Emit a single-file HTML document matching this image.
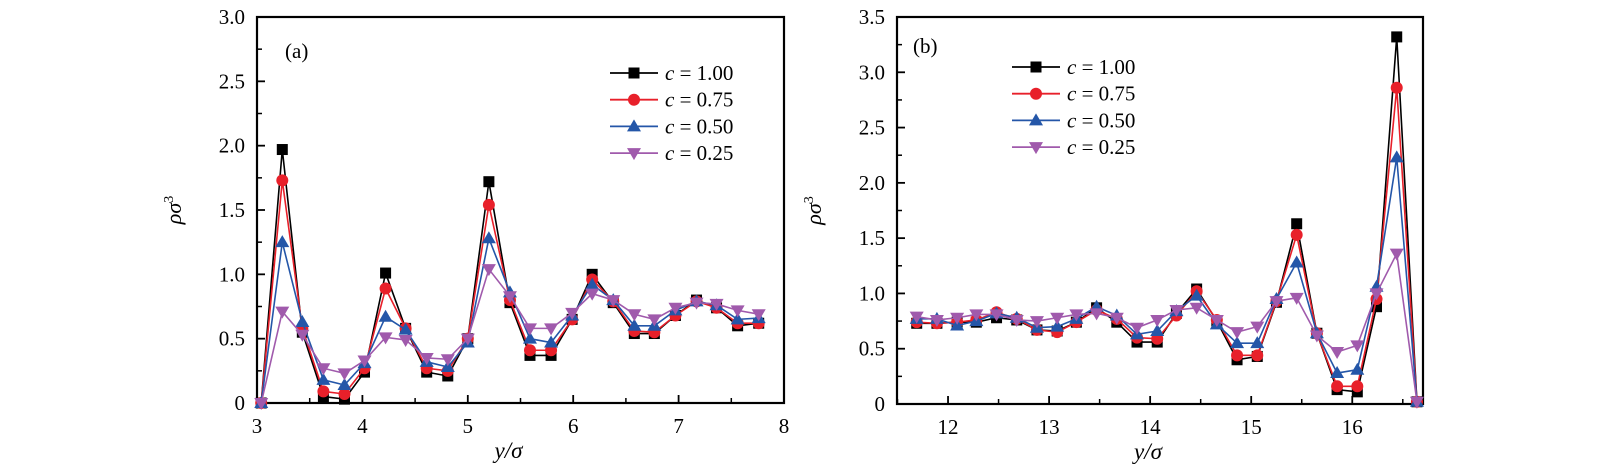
<!DOCTYPE html>
<html><head><meta charset="utf-8"><style>
html,body{margin:0;padding:0;background:#fff;}
svg{display:block;font-family:"Liberation Serif",serif;}
</style></head><body>
<svg id="chart" width="1600" height="470"></svg>
<script>
const seriesLabels = ["c = 1.00","c = 0.75","c = 0.50","c = 0.25"];
const xTicksA = [3,4,5,6,7,8];
const yTicksA = [0,0.5,1.0,1.5,2.0,2.5,3.0];
const xTicksB = [12,13,14,15,16];
const yTicksB = [0,0.5,1.0,1.5,2.0,2.5,3.0,3.5];
const xA = [3.04,3.24,3.43,3.63,3.83,4.02,4.22,4.41,4.61,4.81,5.0,5.2,5.4,5.59,5.79,5.99,6.18,6.38,6.58,6.77,6.97,7.17,7.36,7.56,7.76];
const a100 = [0.0,1.97,0.55,0.05,0.03,0.24,1.01,0.58,0.24,0.21,0.5,1.72,0.78,0.37,0.37,0.65,1.0,0.78,0.54,0.54,0.68,0.8,0.74,0.6,0.62];
const a075 = [0.0,1.73,0.58,0.09,0.07,0.27,0.89,0.58,0.27,0.25,0.5,1.54,0.8,0.41,0.41,0.65,0.96,0.79,0.56,0.55,0.68,0.79,0.74,0.62,0.62];
const a050 = [0.0,1.25,0.63,0.18,0.14,0.31,0.67,0.57,0.32,0.28,0.47,1.28,0.86,0.5,0.47,0.68,0.92,0.8,0.6,0.6,0.72,0.79,0.76,0.65,0.66];
const a025 = [0.0,0.71,0.53,0.27,0.23,0.33,0.51,0.49,0.35,0.34,0.5,1.04,0.83,0.58,0.58,0.7,0.85,0.8,0.69,0.65,0.74,0.78,0.77,0.72,0.69];
const xB = [11.69,11.89,12.09,12.28,12.48,12.68,12.88,13.08,13.27,13.47,13.67,13.87,14.07,14.26,14.46,14.66,14.86,15.06,15.25,15.45,15.65,15.85,16.05,16.24,16.44,16.64];
const b100 = [0.73,0.73,0.74,0.74,0.78,0.76,0.67,0.66,0.74,0.87,0.74,0.56,0.56,0.82,1.04,0.75,0.40,0.43,0.92,1.63,0.64,0.13,0.11,0.88,3.32,0.02];
const b075 = [0.74,0.73,0.74,0.76,0.83,0.77,0.67,0.65,0.74,0.85,0.77,0.60,0.59,0.80,1.02,0.76,0.44,0.44,0.93,1.53,0.64,0.16,0.16,0.95,2.86,0.02];
const b050 = [0.77,0.77,0.71,0.75,0.82,0.78,0.69,0.70,0.77,0.88,0.80,0.63,0.66,0.84,0.98,0.72,0.55,0.55,0.95,1.28,0.64,0.28,0.31,1.06,2.23,0.02];
const b025 = [0.79,0.76,0.78,0.81,0.81,0.76,0.75,0.78,0.81,0.82,0.78,0.69,0.76,0.85,0.87,0.76,0.65,0.70,0.93,0.96,0.62,0.47,0.53,1.00,1.36,0.02];

const NS="http://www.w3.org/2000/svg";
const svg=document.getElementById('chart');
const colors=["#000000","#e8202a","#2456a8","#a05aac"];
const shapes=["square","circle","up","down"];
function el(tag,attrs,parent){const e=document.createElementNS(NS,tag);for(const k in attrs)e.setAttribute(k,attrs[k]);(parent||svg).appendChild(e);return e;}
function marker(g,shape,x,y,c){
  let m;
  if(shape==="square") m=el('rect',{x:x-5.5,y:y-5.5,width:11,height:11,fill:c},g);
  else if(shape==="circle") m=el('circle',{cx:x,cy:y,r:6,fill:c},g);
  else if(shape==="up") m=el('polygon',{points:`${x},${y-7} ${x-7},${y+5} ${x+7},${y+5}`,fill:c},g);
  else m=el('polygon',{points:`${x},${y+7} ${x-7},${y-5} ${x+7},${y-5}`,fill:c},g);
  return m;
}
function panel(cfg){
  const {L,R,T,B,xmin,xmax,ymin,ymax,xt,yt,xs,ys,tag,lab,legX,legY,name}=cfg;
  const sx=v=>L+(v-xmin)/(xmax-xmin)*(R-L);
  const sy=v=>B-(v-ymin)/(ymax-ymin)*(B-T);
  const g=el('g',{});
  
  
  const ax=el('g',{},g);
  
  
  // ticks
  const xstep=xt[1]-xt[0], ystep=yt[1]-yt[0];
  for(let i=0;i<xt.length;i++){
    const v=xt[i];
    el('line',{x1:sx(v),x2:sx(v),y1:B,y2:B-8,stroke:'#000','stroke-width':1.8},ax);
    const t=el('text',{x:sx(v),y:B+30,'text-anchor':'middle','font-size':21},ax);t.textContent=String(v);
    
    
    const m=v+xstep/2;
    if(m<xmax) el('line',{x1:sx(m),x2:sx(m),y1:B,y2:B-5,stroke:'#000','stroke-width':1.5},ax);
    const m2=v-xstep/2;
    if(i===0&&m2>xmin) el('line',{x1:sx(m2),x2:sx(m2),y1:B,y2:B-5,stroke:'#000','stroke-width':1.5},ax);
  }
  for(const v of yt){
    el('line',{x1:L,x2:L+8,y1:sy(v),y2:sy(v),stroke:'#000','stroke-width':1.8},ax);
    const t=el('text',{x:L-12,y:sy(v)+7,'text-anchor':'end','font-size':21},ax);t.textContent=v===0?'0':v.toFixed(1);
    
    
    const m=v+ystep/2;
    if(m<ymax) el('line',{x1:L,x2:L+5,y1:sy(m),y2:sy(m),stroke:'#000','stroke-width':1.5},ax);
  }
  const fr=el('rect',{x:L,y:T,width:R-L,height:B-T,fill:'none',stroke:'#000','stroke-width':2.2},ax);
  
  
  const xl=el('text',{x:(L+R)/2-12,y:B+55,'text-anchor':'middle','font-size':23,'font-style':'italic'},g);
  xl.textContent='y/σ';
  
  
  const yl=el('text',{x:0,y:0,'text-anchor':'middle','font-size':22,'font-style':'italic',transform:`translate(${L-76},${(T+B)/2}) rotate(-90)`},g);
  yl.innerHTML='ρσ<tspan font-style="normal" font-size="14" dy="-8">3</tspan>';
  
  
  const tg=el('text',{x:lab[0],y:lab[1],'font-size':21},g);tg.textContent=tag;
  
  
  for(let s=0;s<4;s++){
    const sg=el('g',{},g);
    
    
    const pts=xs.map((x,i)=>sx(x)+','+sy(ys[s][i])).join(' ');
    el('polyline',{points:pts,fill:'none',stroke:colors[s],'stroke-width':1.6,'stroke-linejoin':'round'},sg);
    for(let i=0;i<xs.length;i++){
      const mk=marker(sg,shapes[s],sx(xs[i]),sy(ys[s][i]),colors[s]);
      
      
    }
  }
  for(let s=0;s<4;s++){
    const lg=el('g',{},g);
    
    
    const y=legY+s*26.7;
    el('line',{x1:legX,x2:legX+48,y1:y,y2:y,stroke:colors[s],'stroke-width':1.8},lg);
    marker(lg,shapes[s],legX+24,y,colors[s]);
    const t=el('text',{x:legX+55,y:y+7,'font-size':21},lg);
    t.innerHTML='<tspan font-style="italic">c</tspan> = '+seriesLabels[s].split('= ')[1];
  }
}
panel({name:'panel-a',L:257,R:784,T:17,B:403,xmin:3,xmax:8,ymin:0,ymax:3,xt:xTicksA,yt:yTicksA,xs:xA,ys:[a100,a075,a050,a025],tag:'(a)',lab:[285,58],legX:610,legY:73});
panel({name:'panel-b',L:897,R:1423,T:17,B:404,xmin:11.495,xmax:16.70,ymin:0,ymax:3.5,xt:xTicksB,yt:yTicksB,xs:xB,ys:[b100,b075,b050,b025],tag:'(b)',lab:[913,53],legX:1012,legY:67});
</script>
</body></html>
